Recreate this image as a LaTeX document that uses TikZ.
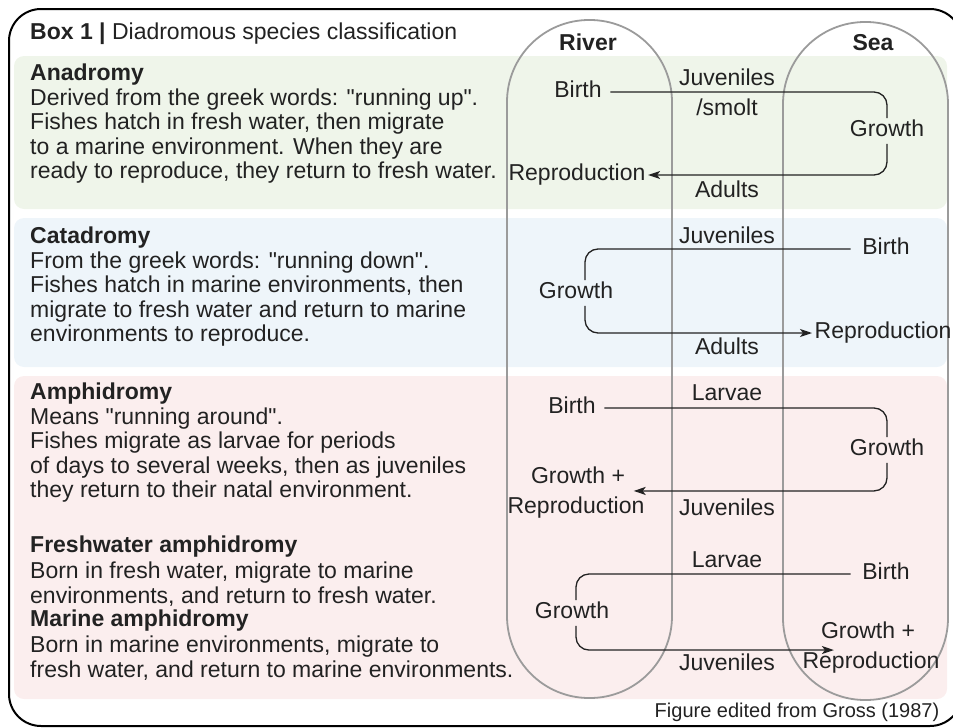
\documentclass[tikz,border=0pt]{standalone}
\usepackage{fontspec}
\setmainfont{Liberation Sans}[Ligatures=TeXOff]
\usetikzlibrary{arrows.meta}
\definecolor{ink}{HTML}{222222}
\definecolor{tubegray}{HTML}{9B9B9B}
\definecolor{anagreen}{HTML}{EFF5EA}
\definecolor{catablue}{HTML}{EEF5FA}
\definecolor{amphipink}{HTML}{FBEEEE}

\begin{document}
\begin{tikzpicture}[x=1pt,y=-1pt,
    body/.style={anchor=north west,inner sep=0pt,align=left,text=ink,font=\fontsize{23}{24.5}\selectfont},
    lbl/.style={text=ink,font=\fontsize{23}{28}\selectfont,text height=16pt,text depth=4.5pt,inner sep=2.5pt},
    flow/.style={draw=ink,line width=1.3pt,rounded corners=13pt},
    tip/.style={-{Stealth[length=12pt,width=8pt,inset=3pt]}},
    tube/.style={draw=tubegray,line width=1.8pt}]
  \useasboundingbox (0,0) rectangle (953,728);

  % outer box
  \draw[line width=2pt,rounded corners=32pt] (9,9) rectangle (962,726);

  % coloured bands, one per strategy
  \fill[anagreen,rounded corners=10pt] (14,56) rectangle (947,209);
  \fill[catablue,rounded corners=10pt] (14,218) rectangle (947,367);
  \fill[amphipink,rounded corners=10pt] (14,376) rectangle (947,699);

  % river and sea tubes
  \draw[tube,rounded corners=82pt] (507,20) rectangle (672,698);
  \draw[tube,rounded corners=82pt] (783,22) rectangle (948,700);
  \node[lbl,font=\fontsize{23}{28}\bfseries] (river) at (588,45) {River};
  \node[lbl,font=\fontsize{23}{28}\bfseries] (sea) at (873,45) {Sea};

  % title and left-hand texts
  \node[body] (title) at (30,23) {\textbf{Box 1 |} Diadromous species classification};
  \node[body] (anatext) at (30,64) {\textbf{Anadromy}\\Derived from the greek words: "running up".\\Fishes hatch in fresh water, then migrate\\to a marine environment. When they are\\ready to reproduce, they return to fresh water.};
  \node[body] (catatext) at (30,227) {\textbf{Catadromy}\\From the greek words: "running down".\\Fishes hatch in marine environments, then\\migrate to fresh water and return to marine\\environments to reproduce.};
  \node[body] (amphitext) at (30,383) {\textbf{Amphidromy}\\Means "running around".\\Fishes migrate as larvae for periods\\of days to several weeks, then as juveniles\\they return to their natal environment.};
  \node[body,font=\fontsize{23}{25.5}\selectfont] (freshtext) at (30,536) {\textbf{Freshwater amphidromy}\\Born in fresh water, migrate to marine\\environments, and return to fresh water.};
  \node[body,font=\fontsize{23}{25.5}\selectfont] (marinetext) at (30,610) {\textbf{Marine amphidromy}\\Born in marine environments, migrate to\\fresh water, and return to marine environments.};

  % anadromy cycle
  \node[lbl] (birthA) at (578,92) {Birth};
  \node[lbl] (juvA) at (727,80) {Juveniles};
  \node[lbl] (smoltA) at (727,110) {/smolt};
  \node[lbl] (growthA) at (887,131) {Growth};
  \node[lbl] (reproA) at (577,175) {Reproduction};
  \node[lbl] (adultsA) at (727,192) {Adults};
  \draw[flow] ([xshift=6pt]birthA.east) -| (growthA.north);
  \draw[flow,tip] (growthA.south) |- (reproA.east);

  % catadromy cycle
  \node[lbl] (juvC) at (727,238) {Juveniles};
  \node[lbl] (birthC) at (886,249) {Birth};
  \node[lbl] (growthC) at (576,293) {Growth};
  \node[lbl,anchor=west] (reproC) at (812,333) {Reproduction};
  \node[lbl] (adultsC) at (727,349) {Adults};
  \draw[flow] ([xshift=-9pt]birthC.west) -| ([xshift=9pt]growthC.north);
  \draw[flow,tip] ([xshift=9pt]growthC.south) |- (reproC.west);

  % amphidromy cycle
  \node[lbl] (larvaeD) at (727,395) {Larvae};
  \node[lbl] (birthD) at (572,408) {Birth};
  \node[lbl] (growthD) at (887,450) {Growth};
  \node[lbl] (gpD) at (578,478) {Growth +};
  \node[lbl] (reproD) at (576,508) {Reproduction};
  \node[lbl] (juvD) at (727,510) {Juveniles};
  \draw[flow] ([xshift=6pt]birthD.east) -| (growthD.north);
  \draw[flow,tip] (growthD.south) |- ([xshift=6pt]gpD.south east);

  % freshwater / marine amphidromy cycle
  \node[lbl] (larvaeE) at (727,562) {Larvae};
  \node[lbl] (birthE) at (886,574) {Birth};
  \node[lbl] (growthE) at (572,613) {Growth};
  \node[lbl] (gpE) at (868,633) {Growth +};
  \node[lbl] (reproE) at (871,663) {Reproduction};
  \node[lbl] (juvE) at (727,665) {Juveniles};
  \draw[flow] ([xshift=-9pt]birthE.west) -| ([xshift=4pt]growthE.north);
  \draw[flow,tip] ([xshift=4pt]growthE.south) |- ([xshift=34pt]reproE.north west);

  % source
  \node[lbl,font=\fontsize{20}{24}\selectfont,anchor=east] (source) at (942,712) {Figure edited from Gross (1987)};
\end{tikzpicture}
\end{document}
